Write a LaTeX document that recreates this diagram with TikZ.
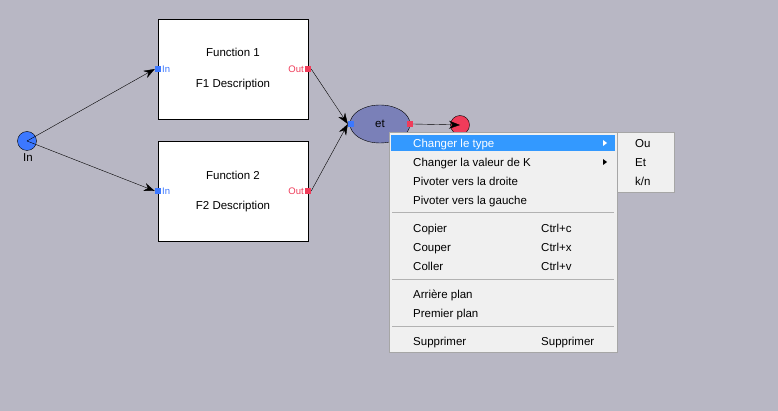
\documentclass[tikz,border=0pt]{standalone}
\usepackage{fontspec}
\setmainfont{Liberation Sans}
\usetikzlibrary{arrows.meta}
\definecolor{bg}{RGB}{184,183,196}
\definecolor{menubg}{RGB}{240,240,240}
\definecolor{hl}{RGB}{51,153,255}
\definecolor{pin}{RGB}{60,120,255}
\definecolor{pout}{RGB}{240,60,90}
\definecolor{ell}{RGB}{122,128,184}
\begin{document}
\begin{tikzpicture}[x=1pt,y=-1pt,font=\fontsize{11.5}{13}\selectfont,
  fbox/.style={draw,fill=white,minimum width=150pt,minimum height=100pt,inner sep=0pt},
  conn/.style={-{Stealth[length=11pt,width=8pt]}},
  pinbox/.style={fill=pin,minimum size=6pt,inner sep=0pt},
  poutbox/.style={fill=pout,minimum size=6pt,inner sep=0pt},
  plab/.style={font=\fontsize{9.5}{11}\selectfont,inner sep=1pt},
  mitem/.style={anchor=west,inner sep=0pt,text height=8pt,text depth=2pt,yshift=-1.5pt},
  sep/.style={draw=gray!60}]
\useasboundingbox[fill=bg] (0,0) rectangle (778,411);
\node[fbox] (f1) at (233,69) {};
\node at (233,52) {Function 1};
\node at (233,85) {F1 Description};
\node[fbox] (f2) at (233,191) {};
\node at (233,175) {Function 2};
\node at (233,207) {F2 Description};
\node[pinbox] (i1) at (158,69) {};
\node[pinbox] (i2) at (158,191) {};
\node[poutbox] (o1) at (308,69) {};
\node[poutbox] (o2) at (308,191) {};
\node[plab,anchor=west,text=pin] at (161,69) {In};
\node[plab,anchor=west,text=pin] at (161,191) {In};
\node[plab,anchor=east,text=pout] at (305,69) {Out};
\node[plab,anchor=east,text=pout] at (305,191) {Out};
\node[circle,draw,fill=pin,minimum size=19pt,inner sep=0pt] (in) at (27,141) {};
\node at (28,158) {In};
\draw[fill=ell,draw=black] (380,124) ellipse [x radius=30, y radius=19];
\node (et) at (380,124) {et};
\node[pinbox] (ei) at (351,124) {};
\node[poutbox] (eo) at (410,124) {};
\node[circle,draw,fill=pout,minimum size=19pt,inner sep=0pt] (r) at (460,125) {};
\draw[conn] (in.center) -- (i1.west);
\draw[conn] (in.center) -- (i2.west);
\draw[conn] (o1.east) -- (ei.west);
\draw[conn] (o2.east) -- (ei.west);
\draw[conn] (eo.east) -- (r.center);
% menu
\fill[menubg] (389,132) rectangle (617,352);
\draw[gray!70] (389,132) rectangle (617,352);
\fill[hl] (391,135) rectangle (615,151);
\node[mitem,text=white] at (413,143) {Changer le type};
\node[mitem] at (413,162) {Changer la valeur de K};
\node[mitem] at (413,181) {Pivoter vers la droite};
\node[mitem] at (413,200) {Pivoter vers la gauche};
\draw[sep] (392,212) -- (614,212);
\node[mitem] at (413,228) {Copier};
\node[mitem] at (541,228) {Ctrl+c};
\node[mitem] at (413,247) {Couper};
\node[mitem] at (541,247) {Ctrl+x};
\node[mitem] at (413,266) {Coller};
\node[mitem] at (541,266) {Ctrl+v};
\draw[sep] (392,279) -- (614,279);
\node[mitem] at (413,294) {Arrière plan};
\node[mitem] at (413,313) {Premier plan};
\draw[sep] (392,326) -- (614,326);
\node[mitem] at (413,341) {Supprimer};
\node[mitem] at (541,341) {Supprimer};
\fill[white] (603,140) -- (607,143) -- (603,146) -- cycle;
\fill[black] (603,159) -- (607,162) -- (603,165) -- cycle;
% submenu
\fill[menubg] (617,132) rectangle (674,192);
\draw[gray!70] (617,132) rectangle (674,192);
\node[mitem] at (635,143) {Ou};
\node[mitem] at (635,162) {Et};
\node[mitem] at (635,181) {k/n};
\end{tikzpicture}
\end{document}
